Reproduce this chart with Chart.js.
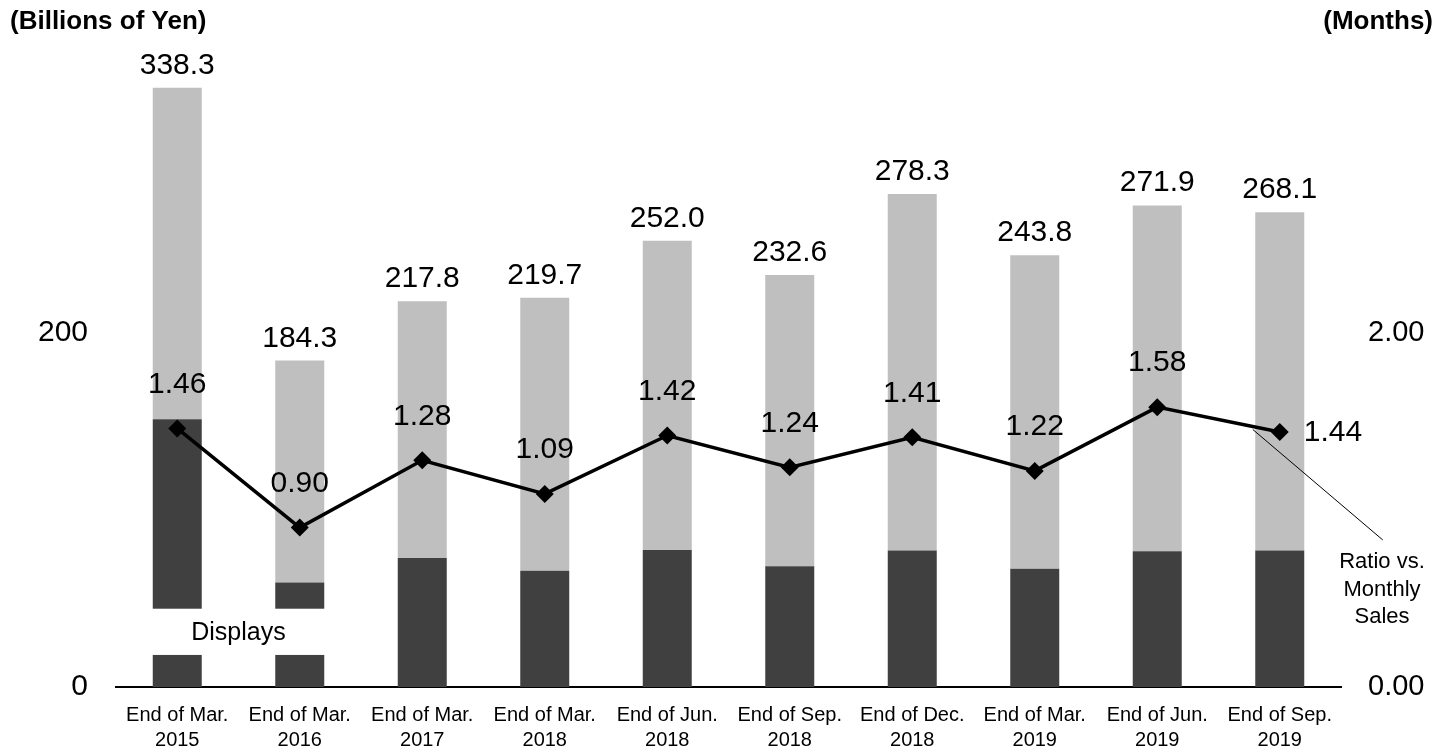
<!DOCTYPE html>
<html>
<head>
<meta charset="utf-8">
<script src="https://cdn.jsdelivr.net/npm/chart.js@4/dist/chart.umd.min.js"></script>
<style>
  body { margin: 0; background: #fff; }
  canvas { display: block; }
</style>
</head>
<body>
<canvas id="inventory-chart" width="1450" height="753"></canvas>
<script>
// Data
const categories = [
  ["End of Mar.", "2015"], ["End of Mar.", "2016"], ["End of Mar.", "2017"],
  ["End of Mar.", "2018"], ["End of Jun.", "2018"], ["End of Sep.", "2018"],
  ["End of Dec.", "2018"], ["End of Mar.", "2019"], ["End of Jun.", "2019"],
  ["End of Sep.", "2019"]
];
const totals = [338.3, 184.3, 217.8, 219.7, 252.0, 232.6, 278.3, 243.8, 271.9, 268.1];
const displays = [151.2, 59.0, 72.9, 65.7, 77.4, 68.2, 77.0, 66.7, 76.7, 77.0];
const others = [187.1, 125.3, 144.9, 154.0, 174.6, 164.4, 201.3, 177.1, 195.2, 191.1];
const ratio = [1.46, 0.90, 1.28, 1.09, 1.42, 1.24, 1.41, 1.22, 1.58, 1.44];
const leftTicks = [0, 200];
const rightTicks = [0, 2];

const FONT = "'Liberation Sans', Arial, sans-serif";

// Labels, axis titles and callouts
const labelPlugin = {
  id: "labels",
  afterDatasetsDraw(chart) {
    const ctx = chart.ctx;
    const x = chart.scales.x;
    const y = chart.scales.y;
    const topMeta = chart.getDatasetMeta(1);
    const lineMeta = chart.getDatasetMeta(2);

    ctx.save();

    // white gap with "Displays" label across first two bars
    const boxTop = y.getPixelForValue(44.2);
    const boxBottom = y.getPixelForValue(18.1);
    const bx0 = x.getPixelForValue(0) - 40;
    const bx1 = x.getPixelForValue(1) + 40;
    ctx.fillStyle = "#fff";
    ctx.fillRect(bx0, boxTop, bx1 - bx0, boxBottom - boxTop);
    ctx.fillStyle = "#000";
    ctx.font = "25px " + FONT;
    ctx.textAlign = "center";
    ctx.textBaseline = "middle";
    ctx.fillText("Displays", (x.getPixelForValue(0) + x.getPixelForValue(1)) / 2, y.getPixelForValue(30.5));

    // totals above bars
    ctx.font = "30px " + FONT;
    ctx.textBaseline = "alphabetic";
    topMeta.data.forEach((bar, i) => {
      ctx.fillText(totals[i].toFixed(1), bar.x, bar.y - 14);
    });

    // ratio labels
    ctx.textBaseline = "middle";
    lineMeta.data.forEach((pt, i) => {
      if (i === ratio.length - 1) {
        ctx.textAlign = "left";
        ctx.fillText(ratio[i].toFixed(2), pt.x + 24, pt.y + 1);
      } else {
        ctx.textAlign = "center";
        ctx.fillText(ratio[i].toFixed(2), pt.x, pt.y - 44);
      }
    });

    // callout for the ratio line
    const p8 = lineMeta.data[8];
    const p9 = lineMeta.data[9];
    const sx = p8.x + (p9.x - p8.x) * 0.78;
    const sy = p8.y + (p9.y - p8.y) * 0.78 + 3;
    ctx.strokeStyle = "#000";
    ctx.lineWidth = 1;
    ctx.beginPath();
    ctx.moveTo(sx, sy);
    ctx.lineTo(p9.x + 103, p9.y + 108);
    ctx.stroke();

    ctx.font = "22px " + FONT;
    ctx.textAlign = "center";
    const cx = chart.chartArea.right + 41;
    ["Ratio vs.", "Monthly", "Sales"].forEach((t, k) => {
      ctx.fillText(t, cx, p9.y + 130 + k * 27.5);
    });

    // axis titles
    ctx.font = "bold 26px " + FONT;
    ctx.textAlign = "left";
    ctx.fillText("(Billions of Yen)", 10, 22);
    ctx.textAlign = "right";
    ctx.fillText("(Months)", 1433, 22);
    ctx.restore();
  }
};

const ctx = document.getElementById("inventory-chart").getContext("2d");

new Chart(ctx, {
  type: "bar",
  data: {
    labels: categories,
    datasets: [
      {
        label: "Displays",
        data: displays,
        backgroundColor: "#404040",
        barPercentage: 0.4,
        categoryPercentage: 1,
        order: 2
      },
      {
        label: "Others",
        data: others,
        backgroundColor: "#bfbfbf",
        barPercentage: 0.4,
        categoryPercentage: 1,
        order: 2
      },
      {
        type: "line",
        label: "Ratio vs. Monthly Sales",
        data: ratio,
        yAxisID: "y1",
        borderColor: "#000",
        borderWidth: 3.5,
        backgroundColor: "#000",
        pointStyle: "rectRot",
        pointRadius: 9,
        pointBorderWidth: 0,
        tension: 0,
        order: 0
      }
    ]
  },
  options: {
    responsive: false,
    animation: false,
    layout: { padding: { top: 60, left: 0, right: 0, bottom: 0 } },
    plugins: {
      legend: { display: false },
      tooltip: { enabled: false }
    },
    scales: {
      x: {
        stacked: true,
        grid: { display: false, drawTicks: false },
        border: { display: true, color: "#000", width: 2 },
        ticks: {
          color: "#000",
          font: { family: FONT, size: 20, lineHeight: 1.25 },
          padding: 16,
          maxRotation: 0,
          autoSkip: false
        },
        afterFit: s => { s.height = 66; }
      },
      y: {
        stacked: true,
        position: "left",
        min: 0,
        max: 354,
        grid: { display: false, drawTicks: false },
        border: { display: false },
        ticks: { color: "#000", font: { family: FONT, size: 30 }, padding: 28 },
        afterBuildTicks: s => { s.ticks = leftTicks.map(v => ({ value: v })); },
        afterFit: s => { s.width = 116; }
      },
      y1: {
        position: "right",
        min: 0,
        max: 3.54,
        grid: { display: false, drawTicks: false },
        border: { display: false },
        ticks: {
          color: "#000",
          font: { family: FONT, size: 29 },
          padding: 27,
          callback: v => v.toFixed(2)
        },
        afterBuildTicks: s => { s.ticks = rightTicks.map(v => ({ value: v })); },
        afterFit: s => { s.width = 109; }
      }
    }
  },
  plugins: [labelPlugin]
});
</script>
</body>
</html>
